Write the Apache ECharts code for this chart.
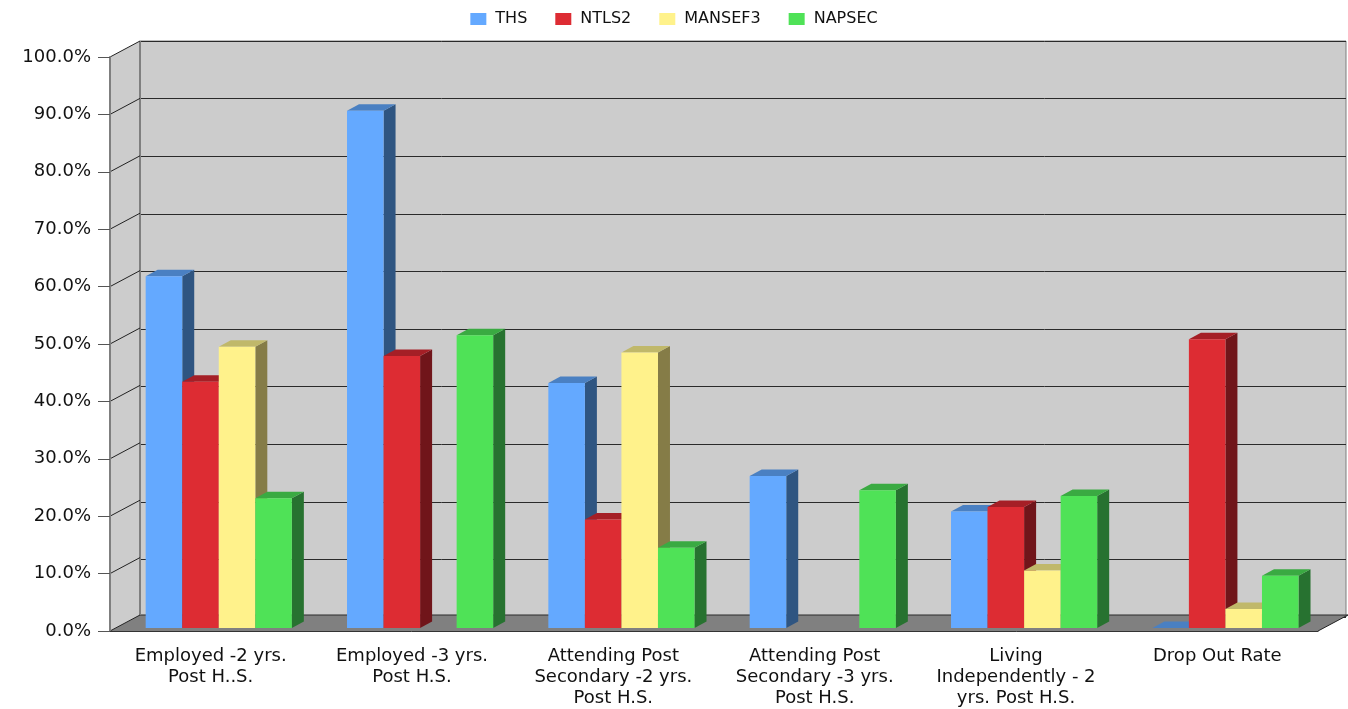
<!DOCTYPE html>
<html><head><meta charset="utf-8">
<script src="https://cdn.jsdelivr.net/npm/echarts@6/dist/echarts.min.js"></script>
<style>html,body{margin:0;padding:0;background:#fff}#c{width:1348px;height:709px}</style>
</head><body><div id="c"></div>
<script>
const categories = [
  "Employed -2 yrs.\nPost H..S.",
  "Employed -3 yrs.\nPost H.S.",
  "Attending Post\nSecondary -2 yrs.\nPost H.S.",
  "Attending Post\nSecondary -3 yrs.\nPost H.S.",
  "Living\nIndependently - 2\nyrs. Post H.S.",
  "Drop Out Rate"
];
const seriesNames = ["THS", "NTLS2", "MANSEF3", "NAPSEC"];
const THS     = [61.3, 90.1, 42.7, 26.5, 20.3, 0];
const NTLS2   = [42.9, 47.4, 18.9, null, 21.1, 50.3];
const MANSEF3 = [49.0, null, 48.0, null, 10.0, 3.3];
const NAPSEC  = [22.6, 51.0, 14.0, 24.0, 23.0, 9.1];
const yMin = 0, yMax = 100, yStep = 10;

const seriesValues = [THS, NTLS2, MANSEF3, NAPSEC];
const faceColors = ['#64a9ff', '#dd2c33', '#fff28b', '#4fe257'];
const sideColors = ['#2f5581', '#70151a', '#857c47', '#277230'];
const topColors  = ['#4a80c2', '#a51f26', '#c0b86a', '#3aaa42'];

const DX = 30, DY = -16;     // wall depth
const BX = 5.6, BY = -3;     // bar front plane offset
const BDX = 12, BDY = -6.5;  // bar depth
const FONT = 'DejaVu Sans, Verdana, sans-serif';

function barRender(si) {
  return function (params, api) {
    const i = api.value(0), v = api.value(1);
    const base = api.coord([i, 0]);
    const top = api.coord([i, v]);
    const band = api.size([1, 0])[0];
    const bw = band * 0.1815;
    const x0 = base[0] - 2 * bw + 2.5 + si * bw + BX;
    const x1 = x0 + bw;
    const yb = base[1] + BY, yt = top[1] + BY;
    const children = [];
    if (yb - yt > 0.5) {
      children.push({type: 'polygon', shape: {points: [[x1, yt], [x1 + BDX, yt + BDY], [x1 + BDX, yb + BDY], [x1, yb]]},
        style: {fill: sideColors[si]}});
    }
    children.push({type: 'polygon', shape: {points: [[x0, yt], [x1, yt], [x1 + BDX, yt + BDY], [x0 + BDX, yt + BDY]]},
      style: {fill: topColors[si]}});
    if (yb - yt > 0.5) {
      children.push({type: 'rect', shape: {x: x0, y: yt, width: bw, height: yb - yt}, style: {fill: faceColors[si]}});
    }
    return {type: 'group', children: children};
  };
}

function wallRender(params, api) {
  const c0 = api.coord([0, yMin]);
  const band = api.size([1, 0])[0];
  const xL = c0[0] - band / 2, xR = xL + categories.length * band;
  const y0 = c0[1], y100 = api.coord([0, yMax])[1];
  const children = [];
  children.push({type: 'polygon', shape: {points: [[xL, y0], [xL, y100], [xL + DX, y100 + DY], [xL + DX, y0 + DY]]},
    style: {fill: '#cccccc'}});
  children.push({type: 'polygon', shape: {points: [[xL, y0], [xR, y0], [xR + DX, y0 + DY], [xL + DX, y0 + DY]]},
    style: {fill: '#808080'}});
  children.push({type: 'line', shape: {x1: xL + DX, y1: y0 + DY, x2: xR + DX, y2: y0 + DY}, style: {stroke: '#2a2a2a', lineWidth: 1}});
  children.push({type: 'line', shape: {x1: xL + DX, y1: y0 + DY, x2: xL + DX, y2: y100 + DY}, style: {stroke: '#7f7f7f', lineWidth: 2}});
  for (let t = yMin; t <= yMax; t += yStep) {
    const y = api.coord([0, t])[1];
    children.push({type: 'line', shape: {x1: xL, y1: y, x2: xL + DX, y2: y + DY}, style: {stroke: '#222', lineWidth: 1}});
  }
  children.push({type: 'line', shape: {x1: xR, y1: y0, x2: xR + DX, y2: y0 + DY}, style: {stroke: '#222', lineWidth: 1}});
  return {type: 'group', children: children};
}

const chart = echarts.init(document.getElementById('c'), null, {renderer: 'canvas'});
const series = [{
  type: 'custom', name: '_walls', xAxisIndex: 0, yAxisIndex: 0, z: 1,
  renderItem: wallRender, data: [[0, 0]], silent: true, clip: false
}];
seriesValues.forEach(function (vals, si) {
  const data = [];
  vals.forEach(function (v, i) { if (v !== null) data.push([i, v]); });
  series.push({
    type: 'custom', name: seriesNames[si], xAxisIndex: 0, yAxisIndex: 0, z: 3,
    itemStyle: {color: faceColors[si]},
    renderItem: barRender(si), data: data, clip: false
  });
});

chart.setOption({
  animation: false,
  legend: {
    data: seriesNames, top: 6, left: 'center', icon: 'rect', itemWidth: 16, itemHeight: 12, itemGap: 28,
    textStyle: {fontSize: 16, fontFamily: FONT, color: '#111', padding: [0, 0, 0, 4]}
  },
  grid: [
    {left: 110, right: 30, top: 57, bottom: 76},
    {left: 140, right: 2, top: 41, bottom: 92, show: true, backgroundColor: '#cccccc', borderColor: '#7f7f7f', borderWidth: 1}
  ],
  xAxis: [
    {type: 'category', gridIndex: 0, data: categories, z: 10,
      axisLine: {lineStyle: {color: '#333', width: 1}},
      axisTick: {length: 12, lineStyle: {color: '#333'}},
      axisLabel: {interval: 0, fontSize: 18, lineHeight: 21, margin: 15, color: '#111', fontFamily: FONT}},
    {type: 'value', gridIndex: 1, show: false}
  ],
  yAxis: [
    {type: 'value', gridIndex: 0, min: yMin, max: yMax, interval: yStep, z: 10,
      axisLine: {show: true, lineStyle: {color: '#7f7f7f', width: 2}},
      axisTick: {show: true, length: 12, lineStyle: {color: '#555'}},
      splitLine: {show: false},
      axisLabel: {formatter: function (v) { return v.toFixed(1) + '%'; }, fontSize: 18, margin: 19, color: '#111', fontFamily: FONT}},
    {type: 'value', gridIndex: 1, min: yMin, max: yMax, interval: yStep,
      axisLine: {show: false}, axisTick: {show: false}, axisLabel: {show: false},
      splitLine: {show: true, lineStyle: {color: '#2a2a2a', width: 1}}}
  ],
  series: series
});
</script>
</body></html>
